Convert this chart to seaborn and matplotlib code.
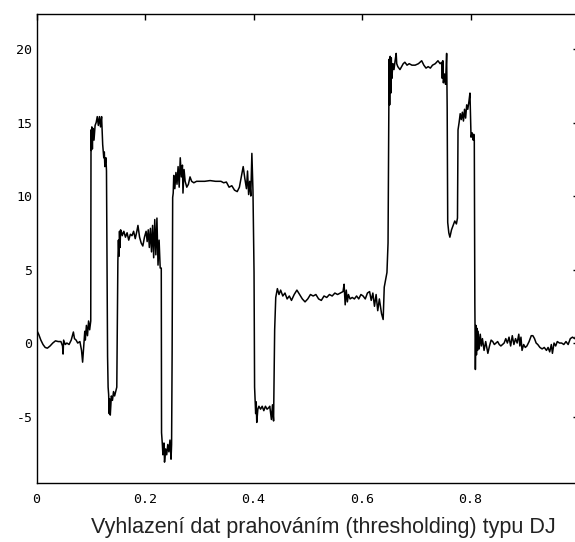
import numpy as np
import pandas as pd
import matplotlib
matplotlib.use("Agg")
import matplotlib.pyplot as plt
import seaborn as sns

# ---- data (denoised "Blocks" signal) ----
x_flat0 = [0.000, 0.004, 0.008, 0.012, 0.016, 0.020, 0.025, 0.030, 0.035, 0.040,
           0.045, 0.048, 0.049, 0.050, 0.053, 0.056, 0.060, 0.064, 0.068, 0.070,
           0.073, 0.076, 0.080, 0.083, 0.085, 0.087, 0.089, 0.090, 0.092, 0.094,
           0.096, 0.098, 0.100]
y_flat0 = [0.9, 0.6, 0.2, -0.1, -0.3, -0.35, -0.2, 0.0, 0.15, 0.1,
           0.1, -0.2, -0.75, 0.2, -0.1, 0.0, -0.1, 0.2, 0.75, 0.3,
           0.2, 0.0, 0.1, -0.5, -1.3, -0.3, 0.8, 0.2, 1.2, 0.5,
           1.5, 0.9, 1.5]

x_blk1 = [0.1005, 0.101, 0.102, 0.103, 0.104, 0.106, 0.108, 0.110, 0.112, 0.114,
          0.116, 0.118, 0.120, 0.122, 0.124, 0.125, 0.126, 0.128, 0.129]
y_blk1 = [14.5, 13.1, 14.7, 13.2, 14.6, 13.8, 14.8, 15.0, 15.4, 14.8,
          15.4, 14.7, 15.4, 13.5, 12.6, 13.0, 12.0, 12.6, 11.7]

x_blk2 = [0.131, 0.132, 0.133, 0.134, 0.135, 0.136, 0.138, 0.140, 0.142, 0.144,
          0.146, 0.148]
y_blk2 = [-0.9, -3.0, -3.5, -4.8, -3.8, -4.9, -3.6, -3.9, -3.3, -3.6,
          -3.3, -3.0]

x_blk3 = [0.150, 0.151, 0.152, 0.153, 0.154, 0.155, 0.157, 0.158, 0.161, 0.164,
          0.167, 0.170, 0.173, 0.176, 0.179, 0.182, 0.185, 0.187, 0.190, 0.193,
          0.196, 0.199, 0.202, 0.204, 0.206, 0.208, 0.210, 0.212, 0.214, 0.216,
          0.218, 0.220, 0.222, 0.224, 0.226, 0.228, 0.230]
y_blk3 = [5.6, 7.0, 5.9, 7.6, 6.5, 7.7, 7.5, 7.3, 7.6, 7.2,
          7.5, 7.0, 7.4, 7.3, 7.6, 7.1, 7.6, 8.0, 7.2, 6.8,
          6.6, 7.2, 7.6, 6.9, 7.7, 6.5, 7.8, 6.2, 8.0, 5.8,
          8.4, 6.0, 8.5, 5.3, 7.0, 5.1, 5.1]

x_blk4 = [0.2305, 0.232, 0.233, 0.235, 0.236, 0.238, 0.240, 0.242, 0.244, 0.246,
          0.248, 0.249]
y_blk4 = [-6.1, -6.9, -7.6, -6.8, -8.1, -7.2, -7.6, -6.9, -7.4, -6.6,
          -7.9, -6.9]

x_blk5 = [0.250, 0.251, 0.252, 0.253, 0.255, 0.257, 0.259, 0.261, 0.263, 0.265,
          0.267, 0.269, 0.270, 0.272, 0.274, 0.277, 0.280, 0.283, 0.286, 0.290,
          0.295, 0.300, 0.310, 0.320, 0.330, 0.340, 0.345, 0.350, 0.355, 0.360,
          0.365, 0.370, 0.374, 0.378, 0.381, 0.384, 0.387, 0.389, 0.391, 0.393,
          0.395, 0.397, 0.399, 0.401]
y_blk5 = [-0.7, 9.9, 10.2, 11.4, 10.5, 11.6, 10.8, 12.0, 10.6, 12.6,
          11.3, 12.1, 10.2, 11.8, 11.0, 10.6, 10.8, 11.3, 11.0, 10.9,
          11.0, 11.0, 11.0, 11.05, 11.0, 11.0, 10.9, 10.95, 10.6, 10.7,
          10.4, 10.3, 10.6, 11.4, 12.0, 11.2, 10.5, 11.7, 10.1, 11.0,
          10.0, 12.9, 10.4, 4.8]

x_blk6 = [0.402, 0.403, 0.404, 0.405, 0.406, 0.408, 0.410, 0.413, 0.416, 0.419,
          0.422, 0.425, 0.428, 0.430, 0.433, 0.435, 0.437]
y_blk6 = [-3.0, -3.9, -4.8, -4.0, -5.4, -4.5, -4.3, -4.5, -4.3, -4.6,
          -4.3, -4.5, -4.4, -4.3, -5.2, -4.2, -5.3]

x_blk7 = [0.439, 0.441, 0.444, 0.447, 0.450, 0.454, 0.458, 0.462, 0.466, 0.470,
          0.475, 0.480, 0.485, 0.490, 0.495, 0.500, 0.505, 0.510, 0.515, 0.520,
          0.525, 0.530, 0.535, 0.540, 0.545, 0.550, 0.555, 0.560, 0.565, 0.567,
          0.569, 0.571, 0.573, 0.575, 0.578, 0.582, 0.586, 0.590, 0.594, 0.598,
          0.602, 0.606, 0.610, 0.614, 0.617, 0.620, 0.623, 0.626, 0.629, 0.632,
          0.636, 0.639, 0.641, 0.644, 0.646, 0.648]
y_blk7 = [0.9, 3.1, 3.7, 3.3, 3.6, 3.2, 3.4, 3.0, 3.2, 2.9,
          3.3, 3.6, 3.3, 3.0, 2.8, 3.0, 3.3, 3.2, 3.3, 3.0,
          2.9, 3.2, 3.1, 3.3, 3.2, 3.4, 3.3, 3.4, 3.5, 4.0,
          2.6, 3.6, 2.8, 3.3, 3.0, 3.1, 3.0, 3.2, 3.0, 3.3,
          3.2, 3.0, 3.4, 3.5, 2.9, 3.4, 2.5, 3.3, 2.2, 3.0,
          2.0, 1.6, 3.8, 4.4, 4.8, 6.8]

x_blk8 = [0.650, 0.651, 0.652, 0.653, 0.654, 0.655, 0.657, 0.659, 0.661, 0.663,
          0.664, 0.666, 0.668, 0.670, 0.673, 0.676, 0.679, 0.683, 0.687, 0.692,
          0.698, 0.704, 0.710, 0.714, 0.718, 0.722, 0.726, 0.730, 0.735, 0.740,
          0.744, 0.747, 0.748, 0.749, 0.750, 0.752, 0.754, 0.756, 0.757]
y_blk8 = [19.3, 16.2, 19.5, 17.0, 19.4, 18.0, 19.0, 18.6, 19.2, 19.7,
          19.0, 18.8, 18.7, 18.6, 18.8, 19.0, 19.1, 18.9, 19.0, 18.9,
          18.9, 19.0, 19.2, 18.9, 18.7, 18.8, 18.7, 18.9, 19.0, 19.2,
          19.0, 19.1, 18.0, 19.2, 17.7, 18.3, 17.6, 19.7, 16.0]

x_blk9 = [0.758, 0.760, 0.762, 0.765, 0.768, 0.771, 0.774, 0.776]
y_blk9 = [8.2, 7.5, 7.2, 7.7, 8.0, 8.3, 8.1, 8.5]

x_blk10 = [0.777, 0.779, 0.781, 0.783, 0.785, 0.787, 0.789, 0.791, 0.793, 0.795,
           0.797, 0.799, 0.800, 0.801, 0.803, 0.805, 0.806, 0.807]
y_blk10 = [14.5, 15.0, 15.6, 15.2, 15.7, 15.1, 15.9, 15.3, 16.2, 15.9,
           16.4, 17.0, 15.5, 14.0, 14.3, 13.8, 14.2, 13.8]

x_flat1 = [0.808, 0.809, 0.810, 0.811, 0.812, 0.813, 0.814, 0.816, 0.818, 0.820,
           0.822, 0.825, 0.828, 0.830, 0.832, 0.835, 0.838, 0.841, 0.844, 0.847,
           0.850, 0.853, 0.856, 0.859, 0.862, 0.865, 0.868, 0.871, 0.874, 0.877,
           0.880, 0.883, 0.886, 0.889, 0.891, 0.893, 0.895, 0.898, 0.901, 0.904,
           0.908, 0.912, 0.915, 0.918, 0.921, 0.924, 0.928, 0.932, 0.936, 0.940,
           0.943, 0.946, 0.949, 0.951, 0.954, 0.957, 0.960, 0.964, 0.968, 0.972,
           0.976, 0.980, 0.984, 0.988, 0.992, 0.996, 1.000]
y_flat1 = [2.7, -1.8, 1.2, -0.8, 1.0, -0.5, 0.8, -0.4, 0.6, -0.2,
           0.3, -0.5, 0.1, -0.3, -0.7, -0.2, 0.2, 0.1, -0.1, 0.0,
           0.1, -0.1, -0.2, -0.1, 0.0, 0.3, 0.0, 0.4, -0.2, 0.5,
           -0.1, 0.3, 0.0, 0.6, -0.2, 0.4, -0.5, -0.1, -0.3, -0.2,
           0.1, 0.5, 0.5, 0.3, 0.0, -0.1, -0.3, -0.4, -0.3, -0.5,
           -0.3, -0.6, -0.1, -0.7, 0.0, -0.2, 0.1, 0.0, 0.0, -0.1,
           0.1, -0.1, 0.3, 0.4, 0.3, 0.6, 0.8]

x_ticks = [0, 0.2, 0.4, 0.6, 0.8, 1]
x_tick_labels = ["0", "0.2", "0.4", "0.6", "0.8", "1"]
y_ticks = [-5, 0, 5, 10, 15, 20]
y_tick_labels = ["-5", "0", "5", "10", "15", "20"]
x_label = "Vyhlazení dat prahováním (thresholding) typu DJ"

xs = (x_flat0 + x_blk1 + x_blk2 + x_blk3 + x_blk4 + x_blk5 + x_blk6 + x_blk7
      + x_blk8 + x_blk9 + x_blk10 + x_flat1)
ys = (y_flat0 + y_blk1 + y_blk2 + y_blk3 + y_blk4 + y_blk5 + y_blk6 + y_blk7
      + y_blk8 + y_blk9 + y_blk10 + y_flat1)
df = pd.DataFrame({"x": xs, "y": ys})

sns.set_style("white")
plt.rcParams["font.family"] = ["DejaVu Sans"]

W, H = 575, 542
fig = plt.figure(figsize=(W / 100, H / 100), dpi=100)
ax = fig.add_axes([36.5 / W, (H - 483) / H, (579 - 36.5) / W, (483 - 14) / H])

sns.lineplot(data=df, x="x", y="y", ax=ax, color="black", linewidth=1.1,
             sort=False, estimator=None)

ax.set_xlim(0, 1)
ax.set_ylim(-9.52, 22.38)
ax.set_xticks(x_ticks)
ax.set_xticklabels(x_tick_labels)
ax.set_yticks(y_ticks)
ax.set_yticklabels(y_tick_labels)
ax.set_xlabel("")
ax.set_ylabel("")
for lab in ax.get_xticklabels() + ax.get_yticklabels():
    lab.set_family("DejaVu Sans Mono")
    lab.set_fontsize(9.5)
ax.tick_params(direction="in", length=4, width=1.0, color="black",
               top=True, right=True, labelcolor="black")
ax.tick_params(axis="x", pad=7)
ax.tick_params(axis="y", pad=3)
for s in ax.spines.values():
    s.set_color("black")
    s.set_linewidth(1.0)
    s.set_visible(True)

fig.text(323 / W, 1 - 533 / H, x_label, ha="center", va="baseline",
         fontsize=15.5, family="Liberation Sans", color="#222222")

fig.savefig("out.png", dpi=100, facecolor="white")
